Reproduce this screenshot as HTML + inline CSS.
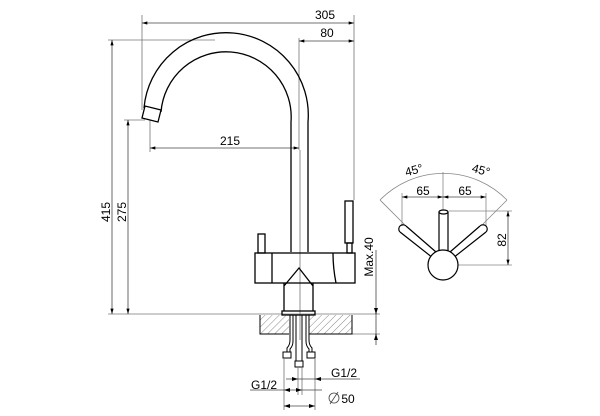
<!DOCTYPE html>
<html><head><style>body{margin:0;background:#fff}svg{display:block}</style></head><body>
<svg width="600" height="416" viewBox="0 0 600 416" xmlns="http://www.w3.org/2000/svg" font-family="Liberation Sans, sans-serif" font-size="12" fill="none">
<defs>
<marker id="a" viewBox="0 0 10 6" refX="10" refY="3" markerWidth="7" markerHeight="4" orient="auto-start-reverse"><path d="M0,0L10,3L0,6z" fill="#000"/></marker>
<pattern id="h" width="5" height="5" patternUnits="userSpaceOnUse" patternTransform="rotate(45)"><line x1="0" y1="0" x2="0" y2="5" stroke="#555" stroke-width="0.7"/></pattern>
</defs>
<g stroke="#777" stroke-width="0.8">
<!-- ext lines -->
<line x1="142" y1="15" x2="142" y2="110"/>
<line x1="354" y1="15" x2="354" y2="200"/>
<line x1="299" y1="38" x2="299" y2="150"/>
<line x1="150" y1="120" x2="150" y2="152"/>
<line x1="108" y1="40" x2="215" y2="40"/>
<line x1="124" y1="120" x2="145" y2="120"/>
<line x1="108" y1="314" x2="380" y2="314"/>
<line x1="352" y1="334" x2="380" y2="334"/>
<line x1="300" y1="150" x2="300" y2="340"/>
</g>
<g stroke="#444" stroke-width="0.8" marker-start="url(#a)" marker-end="url(#a)">
<line x1="142" y1="23" x2="354" y2="23"/>
<line x1="299" y1="41" x2="354" y2="41"/>
<line x1="150" y1="148" x2="299" y2="148"/>
<line x1="112" y1="40" x2="112" y2="314"/>
<line x1="128" y1="120" x2="128" y2="314"/>
</g>
<g stroke="#444" stroke-width="0.8">
<line x1="376" y1="250" x2="376" y2="345"/>
</g>
<path d="M376,308 L376,314 M376,340 L376,334" stroke="#000" stroke-width="0.8"/>
<path d="M374,308 L376,314 L378,308 M374,340 L376,334 L378,340" fill="#000" stroke="none"/>
<g fill="#000" stroke="none" font-size="12">
<text x="325" y="19" text-anchor="middle">305</text>
<text x="327" y="37" text-anchor="middle">80</text>
<text x="230" y="145" text-anchor="middle">215</text>
<text transform="translate(110,212) rotate(-90)" text-anchor="middle">415</text>
<text transform="translate(126,212) rotate(-90)" text-anchor="middle">275</text>
<text transform="translate(373,257) rotate(-90)" text-anchor="middle">Max.40</text>
<text x="344" y="377" text-anchor="middle">G1/2</text>
<text x="264" y="389" text-anchor="middle">G1/2</text>
<text x="348" y="403" text-anchor="middle">50</text>
<text transform="translate(415,174) rotate(-15)" text-anchor="middle">45°</text>
<text transform="translate(480,174) rotate(15)" text-anchor="middle">45°</text>
<text x="423" y="195" text-anchor="middle">65</text>
<text x="465" y="195" text-anchor="middle">65</text>
<text transform="translate(506,240) rotate(-90)" text-anchor="middle">82</text>
</g>
<circle cx="334" cy="398" r="5" stroke="#444" stroke-width="0.8"/>
<line x1="330" y1="404" x2="338" y2="392" stroke="#444" stroke-width="0.8"/>
<!-- faucet -->
<g stroke="#000" stroke-width="1.3">
<path d="M144,108 A82,82 0 0 1 308,122 L308,252"/>
<path d="M161,112 A65,65 0 0 1 291,122 L291,252"/>
<path d="M142,118 L158,122 L161,110 L145,106 Z" fill="#fff"/>
<rect x="255" y="253" width="100" height="30"/>
<line x1="272" y1="253" x2="272" y2="283"/>
<path d="M333,253 Q333,268 336,283"/>
<rect x="258" y="234" width="7" height="19"/>
<rect x="345" y="201" width="8" height="42"/>
<rect x="347" y="243" width="5" height="10"/>
<path d="M284,283 L284,311 M313,283 L313,311 M284,286 L299,268 L313,286"/>
<rect x="282" y="311" width="33" height="4"/>
</g>
<rect x="260" y="315" width="29" height="19" fill="url(#h)"/>
<rect x="309" y="315" width="43" height="19" fill="url(#h)"/>
<path d="M260,315 L260,334 L289,334 M309,334 L352,334 L352,315" stroke="#000" stroke-width="1"/>
<g stroke="#000" stroke-width="1">
<path d="M290,315 L290,340 Q290,345 287,348 L287,352 M293,315 L293,341 Q293,346 290,349 L290,352"/>
<path d="M306,315 L306,341 Q306,346 309,349 L309,352 M309,315 L309,340 Q309,345 312,348 L312,352"/>
<path d="M296,315 L296,361 M302,315 L302,361"/>
<rect x="283" y="352" width="8" height="6"/>
<rect x="307" y="352" width="8" height="6"/>
<rect x="295" y="361" width="8" height="6"/>
</g>
<g stroke="#777" stroke-width="0.8">
<line x1="284" y1="358" x2="284" y2="410"/>
<line x1="315" y1="358" x2="315" y2="410"/>
<line x1="298" y1="367" x2="298" y2="395"/>
<line x1="302" y1="367" x2="302" y2="395"/>
<line x1="315" y1="358" x2="315" y2="380"/>
</g>
<g stroke="#444" stroke-width="0.8">
<line x1="286" y1="379" x2="360" y2="379"/>
<line x1="250" y1="390" x2="322" y2="390"/>
<line x1="284" y1="406" x2="315" y2="406"/>
</g>
<g fill="#000">
<path d="M298,379 l-6,-2 v4z M315,379 l6,-2 v4z M284,390 l6,-2 v4z M302,390 l-6,-2 v4z M284,406 l6,-2 v4z M315,406 l-6,-2 v4z"/>
</g>
<!-- top view -->
<g stroke="#888" stroke-width="0.8">
<path d="M380,200 A89,89 0 0 1 507,200"/>
<line x1="380" y1="200" x2="404" y2="224"/>
<line x1="507" y1="200" x2="483" y2="224"/>
<line x1="443" y1="172" x2="443" y2="210"/>
<line x1="402" y1="193" x2="402" y2="226"/>
<line x1="486" y1="193" x2="486" y2="226"/>
<line x1="449" y1="211" x2="512" y2="211"/>
<line x1="443" y1="265" x2="512" y2="265"/>
</g>
<g stroke="#444" stroke-width="0.8" marker-start="url(#a)" marker-end="url(#a)">
<line x1="402" y1="197" x2="443" y2="197"/>
<line x1="443" y1="197" x2="486" y2="197"/>
<line x1="508" y1="211" x2="508" y2="265"/>
</g>
<g stroke="#000" stroke-width="1.2">
<path d="M439,212 L439,252 M448,212 L448,252"/>
<ellipse cx="443.5" cy="212" rx="4.5" ry="2" fill="#fff"/>
<path d="M400,232 L433,258 M406,226 L436,252"/>
<path d="M486,232 L453,258 M480,226 L450,252"/>
<path d="M400,232 A4,4 0 0 1 406,226" />
<path d="M486,232 A4,4 0 0 0 480,226" />
<circle cx="443" cy="265" r="15" fill="#fff"/>
</g>
</svg>
</body></html>
